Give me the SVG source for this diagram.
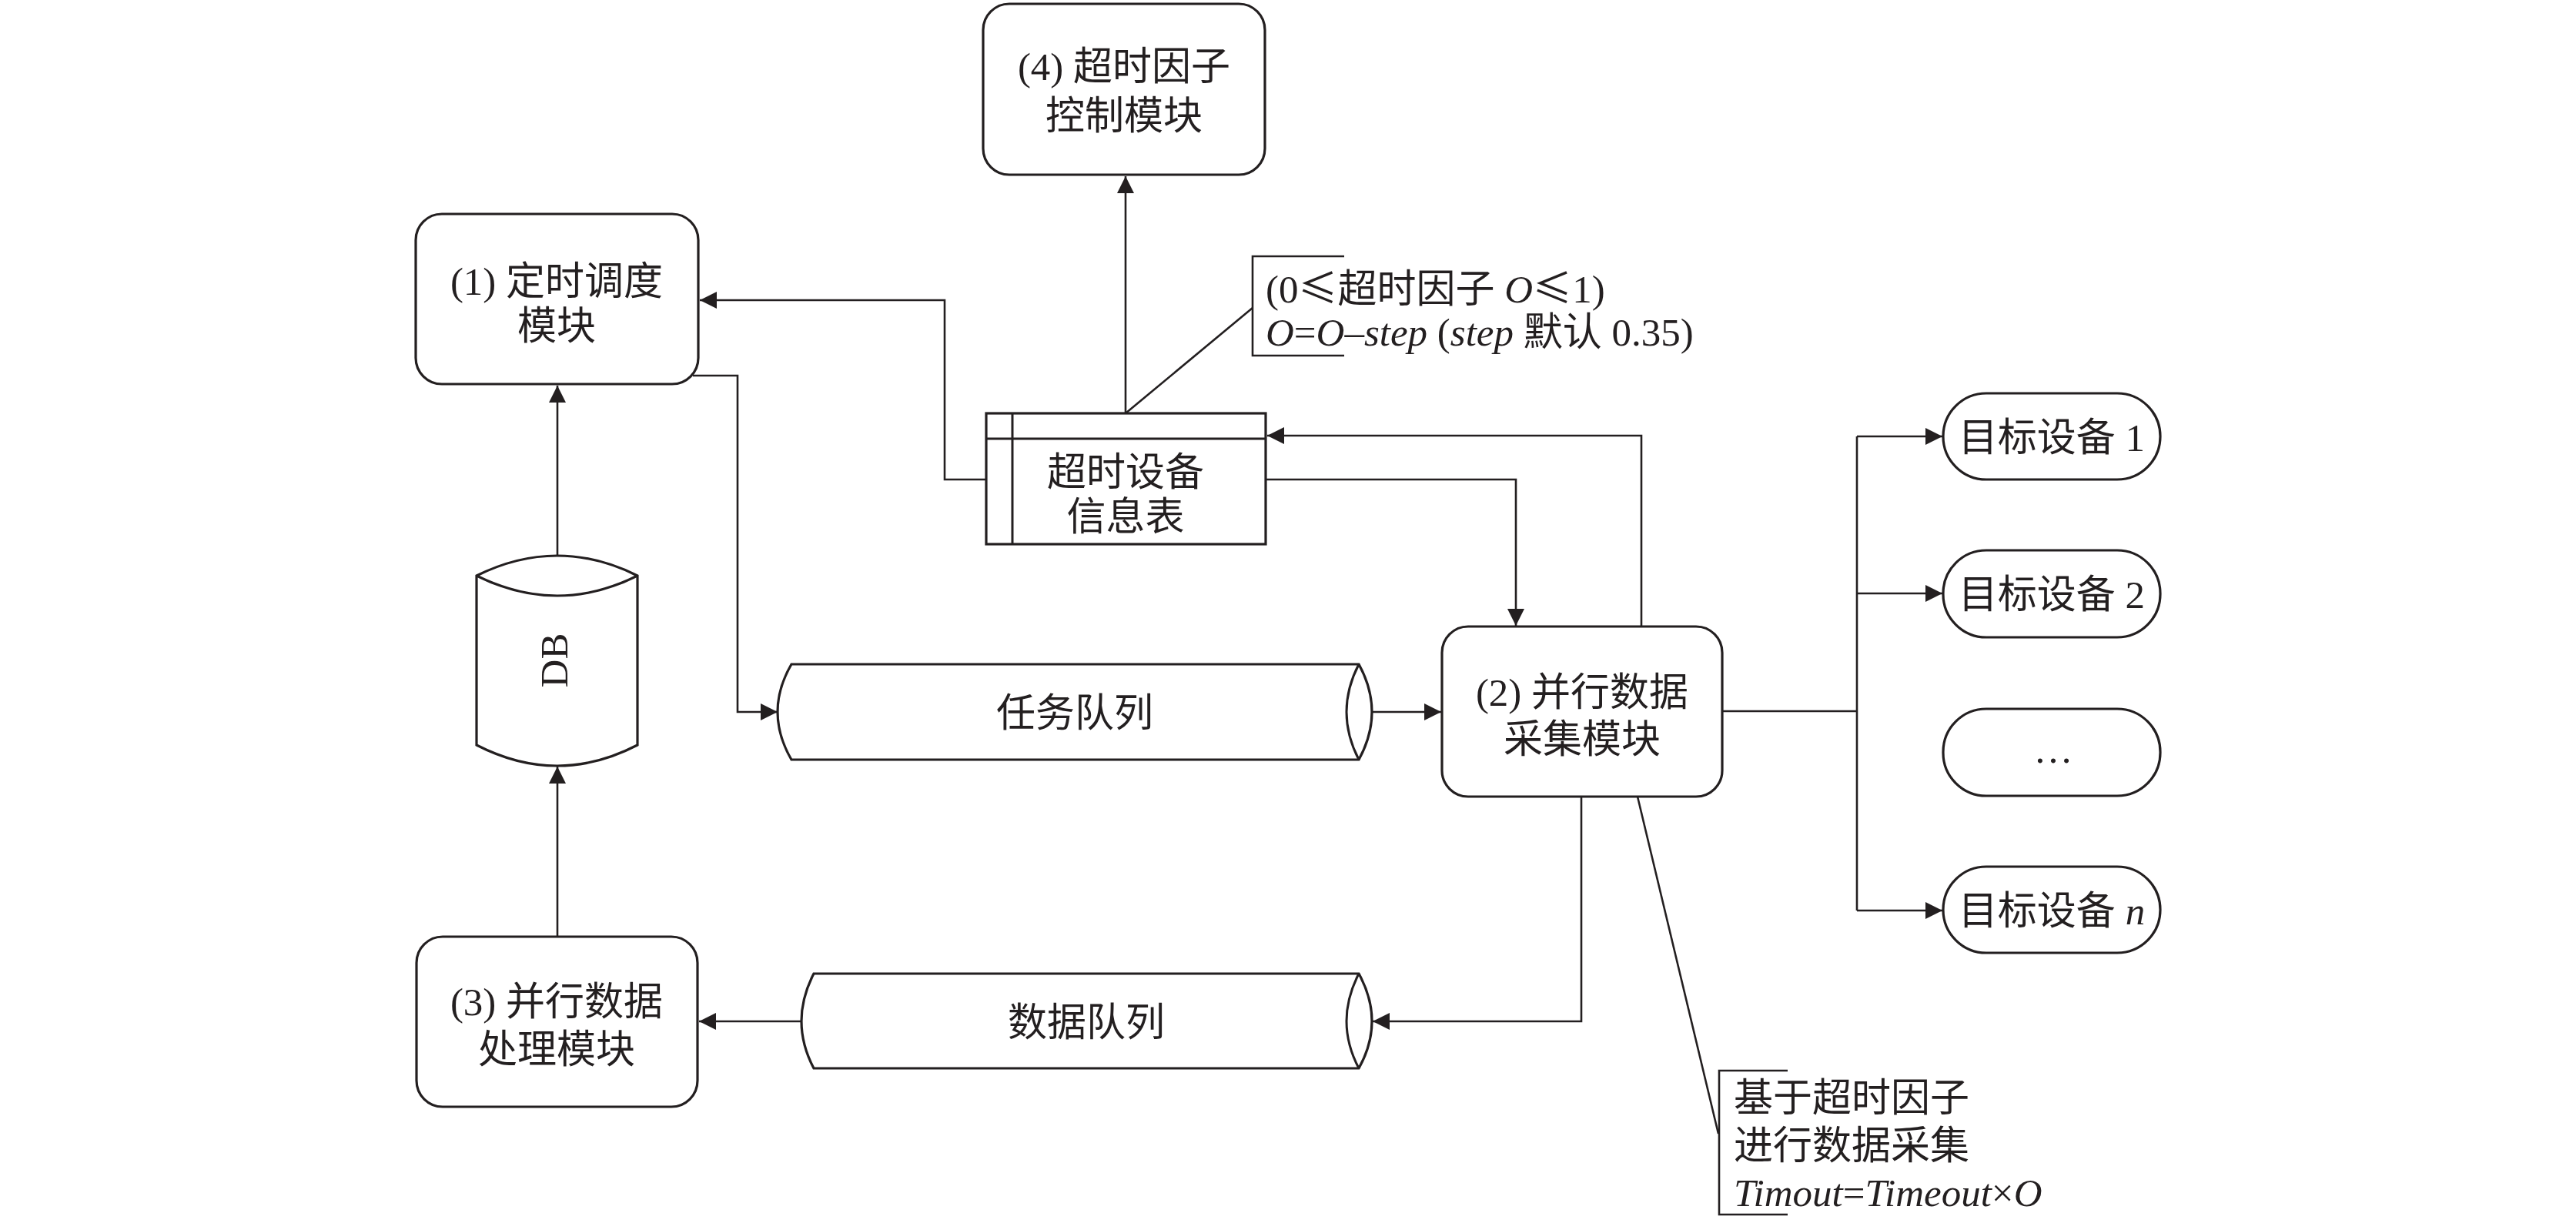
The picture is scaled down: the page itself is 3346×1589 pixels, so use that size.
<svg xmlns="http://www.w3.org/2000/svg" width="3346" height="1589" viewBox="0 0 3346 1589">
<style>
text{font-family:"Liberation Serif","Noto Sans CJK SC",serif;font-size:51px;fill:#231f20}
.c{text-anchor:middle}
.i{font-style:italic}
.cjk{font-family:"Noto Sans CJK SC",sans-serif}
.box{fill:#fff;stroke:#231f20;stroke-width:3.2}
.ln{fill:none;stroke:#231f20;stroke-width:2.6}
.arr{fill:none;stroke:#231f20;stroke-width:2.6;marker-end:url(#ah)}
</style>
<defs>
<marker id="ah" markerUnits="userSpaceOnUse" markerWidth="24" markerHeight="22" refX="22" refY="11" orient="auto">
<path d="M0,0 L22,11 L0,22 z" fill="#231f20"/>
</marker>
</defs>
<rect width="3346" height="1589" fill="#fff"/>

<g id="connectors">
<path class="arr" d="M1462,537 V229"/>
<path class="arr" d="M1281,623 H1227 V390 H909"/>
<path class="arr" d="M900,488 H958 V925 H1010"/>
<path class="arr" d="M1783,925 H1872"/>
<path class="arr" d="M1644,623 H1969 V813"/>
<path class="arr" d="M2132,814 V566 H1646"/>
<path class="arr" d="M2054,1035 V1327 H1783"/>
<path class="arr" d="M1043,1327 H908"/>
<path class="arr" d="M724,1217 V996"/>
<path class="arr" d="M724,722 V501"/>
<path class="ln" d="M2237,924 H2412 M2412,567 V1183"/>
<path class="arr" d="M2412,567 H2523"/>
<path class="arr" d="M2412,771 H2523"/>
<path class="arr" d="M2412,1183 H2523"/>
</g>

<g id="note1">
<path class="ln" d="M1462,537 L1627,400"/>
<path class="ln" d="M1746,333 H1627 V462 H1746"/>
<text x="1644" y="393">(0<tspan class="cjk">≤</tspan>超时因子 <tspan class="i">O</tspan><tspan class="cjk">≤</tspan>1)</text>
<text x="1644" y="449"><tspan class="i">O</tspan>=<tspan class="i">O</tspan>–<tspan class="i">step</tspan> (<tspan class="i">step</tspan> 默认 0.35)</text>
</g>

<g id="note2">
<path class="ln" d="M2127,1035 L2232,1473"/>
<path class="ln" d="M2322,1391 H2233 V1578 H2322"/>
<text x="2252" y="1444">基于超时因子</text>
<text x="2252" y="1506">进行数据采集</text>
<text x="2252" y="1567"><tspan class="i">Timout</tspan>=<tspan class="i">Timeout</tspan>×<tspan class="i">O</tspan></text>
</g>

<g id="n4">
<rect class="box" x="1277" y="5" width="366" height="222" rx="34"/>
<text class="c" x="1460" y="104">(4) 超时因子</text>
<text class="c" x="1460" y="168">控制模块</text>
</g>

<g id="n1">
<rect class="box" x="540" y="278" width="367" height="221" rx="34"/>
<text class="c" x="723" y="383">(1) 定时调度</text>
<text class="c" x="723" y="441">模块</text>
</g>

<g id="table">
<rect class="box" x="1281" y="537" width="363" height="170"/>
<path class="ln" style="stroke-width:3" d="M1281,570 H1644 M1315,537 V707"/>
<text class="c" x="1462" y="631">超时设备</text>
<text class="c" x="1462" y="689">信息表</text>
</g>

<g id="db">
<path class="box" d="M619,748 Q724,696 828,748 V968 Q724,1022 619,968 Z"/>
<path class="ln" style="stroke-width:3.2" d="M619,748 Q724,800 828,748"/>
<text class="c" transform="translate(737,858) rotate(-90)" x="0" y="0">DB</text>
</g>

<g id="taskq">
<path class="box" d="M1028,863 H1765 Q1799,925 1765,987 H1028 Q992,925 1028,863 Z"/>
<path class="ln" style="stroke-width:3" d="M1765,863 Q1733,925 1765,987"/>
<text class="c" x="1396" y="944">任务队列</text>
</g>

<g id="n2">
<rect class="box" x="1873" y="814" width="364" height="221" rx="34"/>
<text class="c" x="2055" y="917">(2) 并行数据</text>
<text class="c" x="2055" y="978">采集模块</text>
</g>

<g id="dataq">
<path class="box" d="M1057,1265 H1765 Q1799,1327 1765,1388 H1057 Q1025,1327 1057,1265 Z"/>
<path class="ln" style="stroke-width:3" d="M1765,1265 Q1733,1327 1765,1388"/>
<text class="c" x="1411" y="1346">数据队列</text>
</g>

<g id="n3">
<rect class="box" x="541" y="1217" width="365" height="221" rx="34"/>
<text class="c" x="723" y="1319">(3) 并行数据</text>
<text class="c" x="723" y="1381">处理模块</text>
</g>

<g id="dev1">
<rect class="box" x="2524" y="511" width="282" height="112" rx="56"/>
<text class="c" x="2665" y="586">目标设备 1</text>
</g>
<g id="dev2">
<rect class="box" x="2524" y="715" width="282" height="113" rx="56"/>
<text class="c" x="2665" y="790">目标设备 2</text>
</g>
<g id="devdots">
<rect class="box" x="2524" y="921" width="282" height="113" rx="56"/>
<text class="c" x="2667" y="991">…</text>
</g>
<g id="devn">
<rect class="box" x="2524" y="1126" width="282" height="112" rx="56"/>
<text class="c" x="2665" y="1201">目标设备 <tspan class="i">n</tspan></text>
</g>
</svg>
